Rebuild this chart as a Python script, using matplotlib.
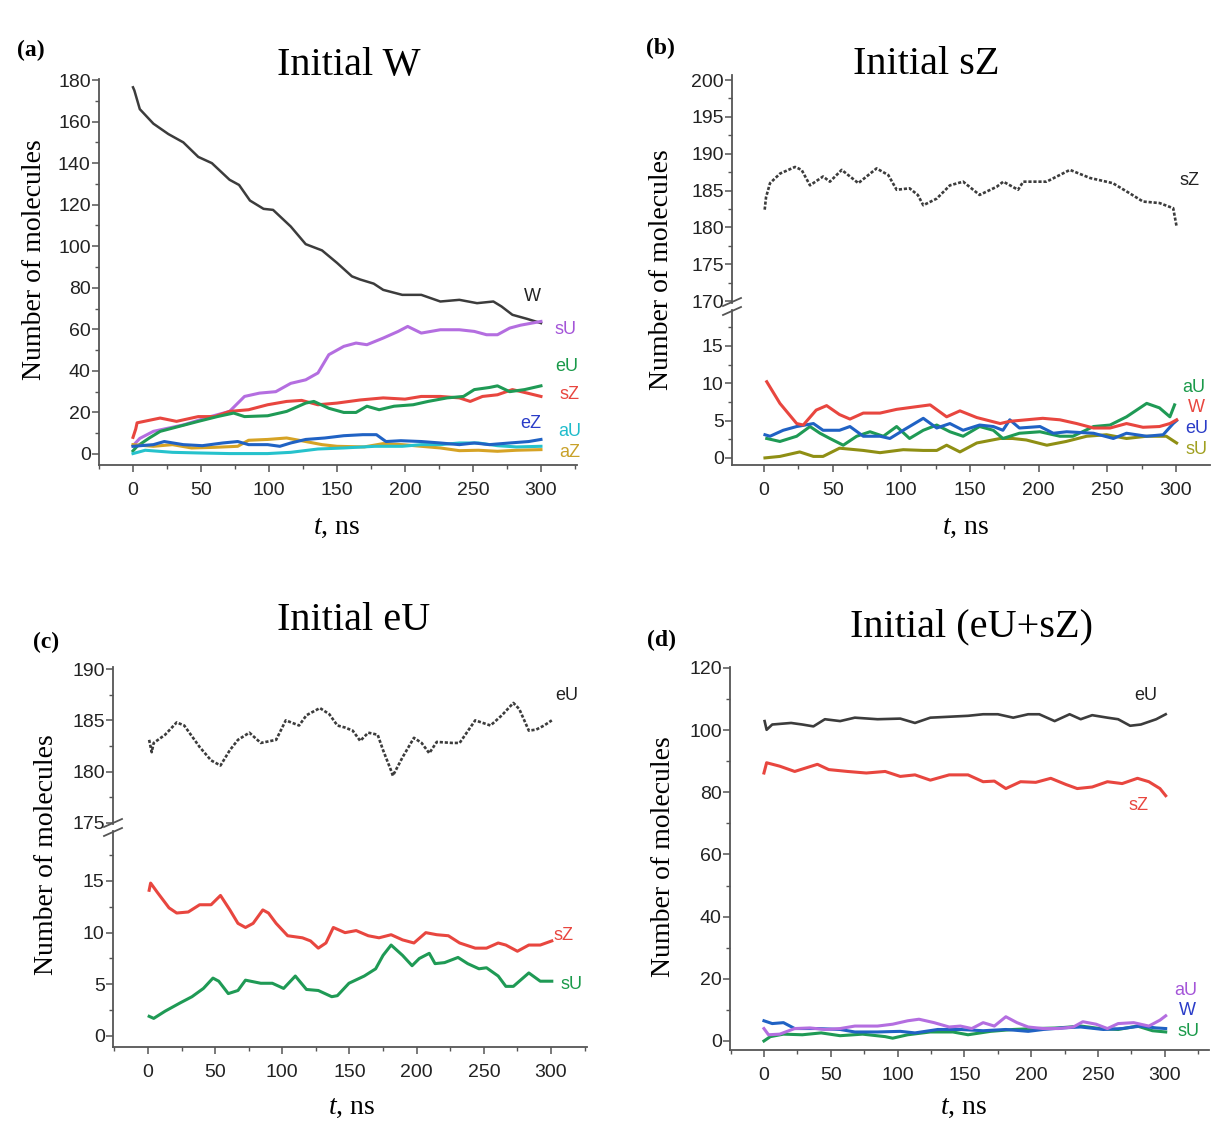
import matplotlib
matplotlib.use("Agg")
import matplotlib.pyplot as plt
from matplotlib.ticker import MultipleLocator
from matplotlib.lines import Line2D

plt.rcParams['mathtext.fontset'] = 'custom'
plt.rcParams['mathtext.it'] = 'Liberation Serif:italic'
plt.rcParams['mathtext.rm'] = 'Liberation Serif'

# ---------------- data ----------------
# Panel (a): Initial W
a_W_t = [0, 1, 5, 15, 26, 37, 48, 58, 71, 78, 86, 96, 103, 116, 127, 139, 150, 161, 167, 177, 184, 198, 212, 226, 240, 253, 265, 271, 279, 290, 300]
a_W_v = [176.5, 175, 166, 159, 154, 150, 143, 140, 132, 129.5, 122, 118, 117.5, 109.5, 101, 98, 92, 85.5, 84, 82, 79, 76.6, 76.6, 73.4, 74.2, 72.6, 73.4, 71, 67, 65, 63]
a_sU_t = [0, 5, 15, 37, 57, 71, 82, 93, 105, 116, 127, 136, 144, 155, 164, 172, 184, 195, 202, 212, 226, 240, 251, 260, 268, 277, 285, 300]
a_sU_v = [4, 7.5, 10.9, 14, 18, 20.5, 27.7, 29.3, 30, 34, 35.7, 39, 47.8, 51.8, 53.4, 52.6, 55.8, 59, 61.4, 58.2, 59.8, 59.8, 59, 57.4, 57.4, 60.6, 62, 63.8]
a_sZ_t = [0, 2, 3, 20, 32, 48, 60, 71, 85, 99, 113, 124, 136, 150, 167, 184, 200, 212, 226, 240, 248, 257, 268, 279, 290, 300]
a_sZ_v = [8, 12, 15, 17.3, 15.7, 18, 18, 20.5, 21.3, 23.7, 25.3, 25.8, 23.7, 24.5, 26, 27, 26.4, 27.7, 27.7, 27, 25.3, 27.7, 28.5, 31, 29.3, 27.7]
a_eU_t = [0, 3, 12, 20, 34, 48, 62, 74, 82, 99, 113, 127, 133, 144, 155, 164, 172, 181, 192, 206, 217, 231, 243, 251, 262, 268, 277, 288, 300]
a_eU_v = [1.5, 3.7, 7.7, 10.9, 13.3, 15.7, 18, 19.7, 18, 18.4, 20.5, 24.5, 25.3, 22, 20, 20, 23, 21.3, 23, 23.7, 25.3, 27, 27.7, 31, 32, 32.8, 30, 31, 32.8]
a_eZ_t = [0, 15, 23, 37, 51, 66, 77, 85, 99, 108, 116, 127, 141, 155, 169, 179, 186, 197, 212, 226, 240, 251, 262, 277, 291, 300]
a_eZ_v = [3.7, 4.5, 6, 4.5, 4, 5.3, 6, 4.5, 4.5, 3.7, 5.3, 7, 7.7, 8.8, 9.3, 9.3, 6, 6.4, 6, 5.3, 4.5, 5.3, 4.5, 5.3, 6, 7]
a_aU_t = [0, 9, 29, 48, 71, 99, 116, 136, 155, 178, 198, 212, 226, 240, 254, 268, 282, 300]
a_aU_v = [0.2, 1.8, 0.8, 0.5, 0.2, 0.2, 0.8, 2.4, 2.9, 3.7, 3.7, 4.5, 4.5, 5.3, 5.3, 4, 3.4, 3.7]
a_aZ_t = [0, 15, 29, 43, 60, 77, 85, 99, 113, 127, 139, 150, 170, 184, 198, 212, 226, 240, 254, 268, 282, 300]
a_aZ_v = [4.5, 3.7, 4.5, 2.9, 3.2, 3.7, 6.6, 7, 7.7, 6, 4.5, 3.7, 3.4, 5, 4.5, 3.7, 2.9, 1.6, 1.8, 1.3, 1.8, 2.1]

# Panel (b): Initial sZ
b_sZ_t = [0.5, 1.5, 4.4, 11.7, 22.6, 27.4, 33.5, 43, 48, 56.6, 68.7, 82, 90.5, 96.6, 106, 112, 116, 125.8, 135.4, 145, 157, 169.4, 174.3, 185, 188.8, 205.8, 222.8, 237.4, 254, 266.5, 276, 288, 298, 300.5]
b_sZ_v = [182.4, 184.1, 186, 187.3, 188.2, 187.8, 185.7, 186.9, 186.2, 187.8, 186, 188, 187.1, 185.1, 185.3, 184.4, 183, 183.9, 185.7, 186.2, 184.4, 185.5, 186.2, 185.1, 186.2, 186.2, 187.8, 186.7, 186, 184.6, 183.5, 183.3, 182.6, 180.1]
b_W_t = [2, 11.6, 23.8, 28.6, 38, 45.6, 55, 62.6, 72.3, 84.5, 96.6, 108.7, 121, 133, 142.7, 155, 172, 179, 203, 215.5, 227.7, 240, 252, 264, 276, 288, 295.6, 300.5]
b_W_v = [10.2, 7.3, 4.6, 4.4, 6.4, 7, 5.8, 5.2, 6, 6, 6.5, 6.8, 7.1, 5.5, 6.3, 5.4, 4.6, 4.9, 5.3, 5.1, 4.6, 4.0, 4.0, 4.6, 4.1, 4.2, 4.6, 5.1]
b_eU_t = [0.7, 4.4, 14, 23.8, 36, 43, 55, 62.6, 72.3, 84.5, 91.7, 101.4, 116, 125.8, 135.4, 145, 157, 167, 174, 179, 186, 201, 210.7, 220.4, 240, 254.4, 264, 278.7, 290.7, 298, 300.5]
b_eU_v = [3.1, 2.9, 3.7, 4.2, 4.6, 3.7, 3.7, 4.2, 2.9, 2.9, 2.6, 3.7, 5.3, 4.0, 4.6, 3.7, 4.4, 4.2, 3.7, 5.1, 4.0, 4.2, 3.3, 3.5, 3.3, 2.6, 3.3, 2.9, 3.1, 4.6, 5.0]
b_aU_t = [2, 11.6, 23.8, 33.5, 40.8, 48, 57.7, 67.5, 77.2, 86.9, 96.6, 106, 116, 125.8, 135.4, 145, 157, 167, 174, 186, 201, 215.5, 225, 240, 252, 264, 278.7, 288, 295.6, 299]
b_aU_v = [2.6, 2.2, 2.9, 4.2, 3.3, 2.6, 1.7, 2.9, 3.5, 2.9, 4.2, 2.6, 3.7, 4.4, 3.5, 2.9, 4.2, 3.7, 2.6, 3.3, 3.5, 2.9, 2.9, 4.2, 4.4, 5.5, 7.3, 6.7, 5.5, 7.1]
b_sU_t = [0.7, 11.6, 26, 36, 43, 55, 72.3, 84.5, 101.4, 116, 125.8, 133, 142.7, 155, 172, 181, 191, 206, 220, 235, 249.5, 264, 278.7, 293, 300.5]
b_sU_v = [0, 0.2, 0.8, 0.2, 0.2, 1.3, 1.0, 0.7, 1.1, 1.0, 1.0, 1.7, 0.8, 2.0, 2.6, 2.6, 2.4, 1.7, 2.2, 2.9, 3.1, 2.6, 2.9, 2.9, 2.0]

# Panel (c): Initial eU
c_eU_t = [0.9, 2.8, 4.3, 12.8, 21.4, 27, 38.5, 47, 54, 61, 67, 75.5, 84, 95.4, 102.6, 112.5, 118, 128, 135, 141, 146.7, 152.4, 158, 164, 171, 175, 181, 182.3, 189.5, 198, 203.7, 209.4, 215, 226.5, 232, 243.6, 255, 263.5, 272, 276.4, 283.5, 289, 294.9, 300.6]
c_eU_v = [183.1, 181.9, 182.8, 183.6, 184.8, 184.5, 182.4, 181.1, 180.6, 182.1, 183.1, 183.8, 182.8, 183.1, 185.0, 184.5, 185.5, 186.2, 185.6, 184.5, 184.3, 184.0, 183.0, 183.8, 183.6, 182.1, 180.1, 179.6, 181.4, 183.3, 182.8, 181.8, 182.9, 182.8, 182.8, 185.0, 184.5, 185.5, 186.7, 186.1, 184.0, 184.1, 184.5, 185.0]
c_sZ_t = [0.9, 2, 7, 15.7, 21.4, 30, 38.5, 47, 54, 61, 67, 72.6, 78.3, 85.5, 89.7, 95.4, 104, 115, 121, 126.8, 132.5, 138, 146.7, 155, 164, 172, 181, 189.5, 198, 206.8, 215, 223.6, 232, 243.6, 252, 260.7, 266.4, 275, 283.5, 292, 300.6]
c_sZ_v = [14.1, 14.8, 13.9, 12.4, 11.9, 12.0, 12.7, 12.7, 13.6, 12.2, 10.9, 10.5, 10.9, 12.2, 11.9, 10.9, 9.7, 9.5, 9.2, 8.5, 9.0, 10.5, 10.0, 10.2, 9.7, 9.5, 9.8, 9.3, 9.0, 10.0, 9.8, 9.7, 9.0, 8.5, 8.5, 9.0, 8.8, 8.2, 8.8, 8.8, 9.2]
c_sU_t = [0.9, 4.3, 12.8, 24, 32.8, 41.3, 48.4, 52.7, 59.8, 67, 72.6, 84, 92.6, 101, 109.7, 118, 126.8, 136.8, 141, 149.6, 161, 169.5, 175, 181, 189.5, 196.6, 202, 209.4, 213.7, 220.8, 230.8, 238, 246.4, 252, 260.7, 266.4, 272, 283.5, 292, 300.6]
c_sU_v = [1.9, 1.7, 2.4, 3.2, 3.8, 4.6, 5.6, 5.3, 4.1, 4.4, 5.4, 5.1, 5.1, 4.6, 5.8, 4.5, 4.4, 3.8, 3.9, 5.1, 5.8, 6.5, 7.8, 8.8, 7.8, 6.8, 7.5, 8.0, 7.0, 7.1, 7.6, 7.0, 6.5, 6.6, 5.8, 4.8, 4.8, 6.1, 5.3, 5.3]

# Panel (d): Initial (eU+sZ)
d_eU_t = [0.5, 2, 6.2, 20.3, 28.7, 37, 45.6, 57, 68, 85, 102, 113, 124.5, 138.6, 152.7, 164, 175, 186.5, 197.7, 206, 217.5, 228.7, 237, 245.6, 257, 265, 274, 282, 293.5, 300.6]
d_eU_v = [102.9, 100.1, 101.8, 102.3, 101.8, 101.2, 103.5, 102.9, 104, 103.5, 103.7, 102.3, 104, 104.3, 104.6, 105.1, 105.1, 104, 105.1, 105.1, 102.9, 105.1, 103.5, 104.8, 104, 103.5, 101.4, 101.8, 103.5, 105.1]
d_sZ_t = [0, 2, 11.8, 23, 40, 48.5, 62.5, 76.6, 90.7, 102, 113, 124.5, 138.6, 152.7, 164, 172.4, 181, 192, 203.4, 214.6, 226, 234.4, 245.6, 257, 268, 279.5, 288, 296.3, 300.6]
d_sZ_v = [86.2, 89.5, 88.4, 86.7, 89.0, 87.3, 86.7, 86.2, 86.7, 85.1, 85.6, 83.9, 85.6, 85.6, 83.4, 83.6, 81.2, 83.4, 83.2, 84.5, 82.5, 81.2, 81.7, 83.4, 82.8, 84.5, 83.4, 81.2, 78.9]
d_aU_t = [0, 3.4, 11.8, 23, 34.4, 45.6, 57, 68, 85, 96.3, 107.6, 116, 127.3, 138.6, 147, 155.5, 164, 172.4, 181, 189.3, 197.7, 209, 220.3, 231.5, 238.6, 248.5, 257, 265, 276.6, 288, 296.3, 300.6]
d_aU_v = [4.0, 2.0, 2.2, 4.0, 4.2, 3.7, 4.0, 4.8, 4.8, 5.4, 6.5, 7.0, 5.9, 4.5, 4.8, 4.0, 5.9, 4.8, 7.8, 5.9, 4.5, 4.0, 4.0, 4.5, 6.2, 5.4, 4.0, 5.6, 5.9, 4.8, 6.7, 8.1]
d_W_t = [0, 6.2, 14.6, 23, 40, 57, 68, 85, 102, 113, 130, 147, 164, 181, 197.7, 209, 223, 237, 254, 268, 282, 293.5, 300.6]
d_W_v = [6.5, 5.6, 5.9, 4.0, 4.0, 3.7, 2.9, 2.9, 3.1, 2.6, 3.7, 3.7, 3.3, 3.7, 3.1, 3.7, 4.2, 4.5, 3.7, 4.0, 4.8, 4.2, 4.0]
d_sU_t = [0, 4.8, 14.6, 28.7, 42.8, 57, 73.8, 90.7, 96.3, 107.6, 124.5, 141.4, 152.7, 169.6, 186.5, 203.4, 220.3, 237.2, 251.3, 265, 279.4, 290.7, 300.6]
d_sU_v = [0, 1.4, 2.2, 2.0, 2.6, 1.7, 2.2, 1.4, 0.9, 2.0, 2.9, 2.9, 2.0, 3.1, 3.7, 4.0, 4.2, 4.8, 4.0, 3.7, 4.8, 3.3, 2.9]

x_ticks = [0, 50, 100, 150, 200, 250, 300]

# ---------------- style ----------------
BLACK = '#3c3c3c'
PURPLE = '#b46ee0'
RED = '#e8463f'
GREEN = '#1f9a55'
BLUE = '#2062c4'
CYAN = '#26c2cc'
GOLD = '#d6a325'
OLIVE = '#8f8f14'
TICKC = '#555555'

W, H = 1212, 1137
fig = plt.figure(figsize=(W / 100, H / 100), dpi=100)


def add_ax(l, t, r, b):
    return fig.add_axes([l / W, 1 - b / H, (r - l) / W, (b - t) / H])


def style(ax, xlim, ylim, ymaj, ymin, xaxis=True):
    ax.set_xlim(*xlim)
    ax.set_ylim(*ylim)
    for s in ['top', 'right']:
        ax.spines[s].set_visible(False)
    for s in ['left', 'bottom']:
        ax.spines[s].set_color(TICKC)
        ax.spines[s].set_linewidth(1.3)
    ax.yaxis.set_major_locator(MultipleLocator(ymaj))
    ax.yaxis.set_minor_locator(MultipleLocator(ymin))
    ax.tick_params(axis='both', which='major', direction='out', length=5, width=1.1,
                   color=TICKC, labelsize=14, labelcolor='#222222')
    ax.tick_params(axis='y', which='major', pad=1)
    ax.tick_params(axis='x', which='major', pad=7)
    ax.tick_params(axis='both', which='minor', direction='out', length=3, width=1.0, color=TICKC)
    if xaxis:
        ax.set_xticks(x_ticks)
        ax.xaxis.set_minor_locator(MultipleLocator(25))
    else:
        ax.spines['bottom'].set_visible(False)
        ax.tick_params(axis='x', which='both', bottom=False, labelbottom=False)
    for lab in ax.get_yticklabels() + ax.get_xticklabels():
        lab.set_fontfamily('Liberation Sans')
    ax.set_facecolor('none')


def fig_text(x, y, s, **kw):
    fig.text(x / W, 1 - y / H, s, **kw)


def label(ax, t, v, s, color):
    ax.text(t, v, s, color=color, fontsize=13, family='Liberation Sans',
            ha='center', va='center', clip_on=False)


def brk(x, y):
    fig.add_artist(Line2D([(x - 9) / W, (x + 9) / W], [1 - (y + 4) / H, 1 - (y - 4) / H],
                          color=TICKC, lw=1.3, transform=fig.transFigure))


def panel_text(px, py, tag, title_x, title_y, title, ylab_x, ylab_y, xlab_x, xlab_y):
    fig_text(px, py, tag, fontsize=17, fontweight='bold', family='Liberation Serif',
             ha='center', va='center')
    fig_text(title_x, title_y, title, fontsize=29, family='Liberation Serif',
             ha='center', va='center')
    fig_text(ylab_x, ylab_y, 'Number of molecules', fontsize=20, family='Liberation Serif',
             ha='center', va='center', rotation=90)
    fig_text(xlab_x, xlab_y, r'$t$, ns', fontsize=20, family='Liberation Serif',
             ha='center', va='center')


LW = 2.2
DOTS = (0, (1.2, 0.7))

# ---------------- panel (a) ----------------
ax = add_ax(99, 79, 577, 465)
style(ax, (-25, 326.5), (-5.3, 180.5), 20, 10)
ax.plot(a_W_t, a_W_v, color=BLACK, lw=1.8)
ax.plot(a_sU_t, a_sU_v, color=PURPLE, lw=LW)
ax.plot(a_sZ_t, a_sZ_v, color=RED, lw=LW)
ax.plot(a_eU_t, a_eU_v, color=GREEN, lw=LW)
ax.plot(a_aZ_t, a_aZ_v, color=GOLD, lw=LW)
ax.plot(a_aU_t, a_aU_v, color=CYAN, lw=LW)
ax.plot(a_eZ_t, a_eZ_v, color=BLUE, lw=LW)
label(ax, 294, 76, 'W', '#222222')
label(ax, 318, 59.7, 'sU', '#a455d8')
label(ax, 319, 41.9, 'eU', '#1a9a4a')
label(ax, 321, 28.4, 'sZ', '#e8463f')
label(ax, 292.6, 14.9, 'eZ', '#2a3cc8')
label(ax, 321, 10.6, 'aU', '#20bccb')
label(ax, 321, 0.5, 'aZ', '#c9a22a')
panel_text(31, 50, '(a)', 349, 65, 'Initial W', 35, 260, 337, 527)

# ---------------- panel (b) ----------------
axu = add_ax(732, 75, 1210, 303)
style(axu, (-23.3, 324.8), (169.73, 200.68), 5, 2.5, xaxis=False)
axl = add_ax(732, 310, 1210, 465)
style(axl, (-23.3, 324.8), (-0.95, 19.8), 5, 2.5)
axu.plot(b_sZ_t, b_sZ_v, color=BLACK, lw=1.9, ls=DOTS)
axl.plot(b_sU_t, b_sU_v, color=OLIVE, lw=LW)
axl.plot(b_aU_t, b_aU_v, color=GREEN, lw=LW)
axl.plot(b_eU_t, b_eU_v, color=BLUE, lw=LW)
axl.plot(b_W_t, b_W_v, color=RED, lw=LW)
label(axu, 310, 186.4, 'sZ', '#222222')
label(axl, 313, 9.4, 'aU', '#1a9a4a')
label(axl, 315, 6.7, 'W', '#e8463f')
label(axl, 315, 3.9, 'eU', '#2a3cc8')
label(axl, 315, 1.1, 'sU', '#a0a020')
brk(732, 302)
brk(732, 311)
panel_text(660, 48, '(b)', 926, 65, 'Initial sZ', 662, 270, 966, 528)

# ---------------- panel (c) ----------------
axu = add_ax(113, 667, 587, 824)
style(axu, (-26, 326.8), (174.9, 190.2), 5, 2.5, xaxis=False)
axl = add_ax(113, 831, 587, 1047)
style(axl, (-26, 326.8), (-1.07, 19.84), 5, 2.5)
axu.plot(c_eU_t, c_eU_v, color=BLACK, lw=1.9, ls=DOTS)
axl.plot(c_sZ_t, c_sZ_v, color=RED, lw=LW)
axl.plot(c_sU_t, c_sU_v, color=GREEN, lw=LW)
label(axu, 312, 187.4, 'eU', '#222222')
label(axl, 309, 9.7, 'sZ', '#e8463f')
label(axl, 315.6, 5.0, 'sU', '#1a9a4a')
brk(113, 823)
brk(113, 832)
panel_text(46, 642, '(c)', 354, 621, 'Initial eU', 47, 855, 352, 1108)

# ---------------- panel (d) ----------------
ax = add_ax(730, 667, 1209, 1050)
style(ax, (-25.4, 333), (-2.9, 120.3), 20, 10)
ax.plot(d_eU_t, d_eU_v, color=BLACK, lw=1.9)
ax.plot(d_sZ_t, d_sZ_v, color=RED, lw=LW)
ax.plot(d_sU_t, d_sU_v, color=GREEN, lw=LW)
ax.plot(d_W_t, d_W_v, color=BLUE, lw=LW)
ax.plot(d_aU_t, d_aU_v, color=PURPLE, lw=LW)
label(ax, 285.8, 111, 'eU', '#222222')
label(ax, 280.5, 75.9, 'sZ', '#e8463f')
label(ax, 315.7, 16.1, 'aU', '#a455d8')
label(ax, 317, 9.7, 'W', '#2a3cc8')
label(ax, 318, 3.2, 'sU', '#1a9a4a')
panel_text(662, 640, '(d)', 971, 627, 'Initial (eU+sZ)', 664, 857, 964, 1108)

fig.savefig('out.png', dpi=100, facecolor='white')
